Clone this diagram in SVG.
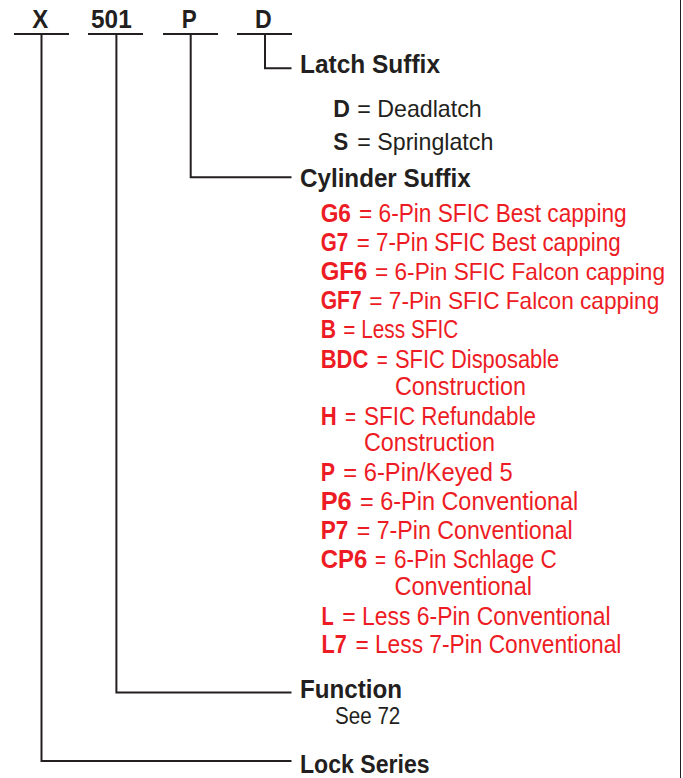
<svg xmlns="http://www.w3.org/2000/svg" width="683" height="778" viewBox="0 0 683 778">
<style>
text{font-family:"Liberation Sans",Arial,sans-serif;}
.h{font-weight:bold;font-size:26px;fill:#231f20;}
.k{font-weight:bold;font-size:25px;fill:#231f20;}
.b{font-weight:bold;font-size:24px;fill:#231f20;}
.r{font-size:24px;fill:#231f20;}
.rb{font-weight:bold;font-size:25px;fill:#ed1c24;}
.rr{font-size:25px;fill:#ed1c24;}
.rs{font-size:23.4px;fill:#ed1c24;}
.ln{stroke:#231f20;stroke-width:2;fill:none;}
</style>
<rect width="683" height="778" fill="#ffffff"/>
<line x1="680.5" y1="0" x2="680.5" y2="778" stroke="#231f20" stroke-width="1"/>
<g id="code">
<text class="k" x="32.3" y="28.3" textLength="16" lengthAdjust="spacingAndGlyphs">X</text>
<text class="k" x="91" y="28.3" textLength="40.7" lengthAdjust="spacingAndGlyphs">501</text>
<text class="k" x="181.7" y="28.3" textLength="15" lengthAdjust="spacingAndGlyphs">P</text>
<text class="k" x="255" y="28.3" textLength="16.7" lengthAdjust="spacingAndGlyphs">D</text>
</g>
<g id="connectors">
<line class="ln" x1="14" y1="34" x2="69" y2="34"/>
<line class="ln" x1="88" y1="34" x2="143" y2="34"/>
<line class="ln" x1="163" y1="34" x2="218" y2="34"/>
<line class="ln" x1="237" y1="34" x2="292" y2="34"/>
<polyline class="ln" points="265,34 265,68.3 291.5,68.3"/>
<polyline class="ln" points="190.7,34 190.7,177.3 291.5,177.3"/>
<polyline class="ln" points="116.4,34 116.4,692.5 291.5,692.5"/>
<polyline class="ln" points="41.5,34 41.5,761 291.5,761"/>
</g>
<g id="latch">
<text class="h" x="300" y="73.3" textLength="140" lengthAdjust="spacingAndGlyphs">Latch Suffix</text>
<text class="b" x="333.3" y="116.7" textLength="16.7" lengthAdjust="spacingAndGlyphs">D</text>
<text class="r" x="357.3" y="116.7" textLength="124.4" lengthAdjust="spacingAndGlyphs">= Deadlatch</text>
<text class="b" x="333.3" y="150" textLength="15" lengthAdjust="spacingAndGlyphs">S</text>
<text class="r" x="357.3" y="150" textLength="136" lengthAdjust="spacingAndGlyphs">= Springlatch</text>
</g>
<g id="cylinder">
<text class="h" x="300" y="186.7" textLength="170.7" lengthAdjust="spacingAndGlyphs">Cylinder Suffix</text>
<text class="rb" x="320.7" y="221.7" textLength="30.3" lengthAdjust="spacingAndGlyphs">G6</text>
<text class="rr" x="359" y="221.7" textLength="267.7" lengthAdjust="spacingAndGlyphs">= 6-Pin SFIC Best capping</text>
<text class="rb" x="320.7" y="251.3" textLength="27.6" lengthAdjust="spacingAndGlyphs">G7</text>
<text class="rr" x="356.7" y="251.3" textLength="264" lengthAdjust="spacingAndGlyphs">= 7-Pin SFIC Best capping</text>
<text class="rb" x="320.7" y="280.3" textLength="46.6" lengthAdjust="spacingAndGlyphs">GF6</text>
<text class="rs" x="375" y="280.3" textLength="290" lengthAdjust="spacingAndGlyphs">= 6-Pin SFIC Falcon capping</text>
<text class="rb" x="320.7" y="309.3" textLength="41" lengthAdjust="spacingAndGlyphs">GF7</text>
<text class="rs" x="369.3" y="309.3" textLength="290" lengthAdjust="spacingAndGlyphs">= 7-Pin SFIC Falcon capping</text>
<text class="rb" x="320.7" y="338.3" textLength="15.3" lengthAdjust="spacingAndGlyphs">B</text>
<text class="rr" x="343.3" y="338.3" textLength="115" lengthAdjust="spacingAndGlyphs">= Less SFIC</text>
<text class="rb" x="320.7" y="368.3" textLength="47.6" lengthAdjust="spacingAndGlyphs">BDC</text>
<text class="rr" x="376.7" y="368.3" textLength="11" lengthAdjust="spacingAndGlyphs">=</text>
<text class="rr" x="395" y="368.3" textLength="164.3" lengthAdjust="spacingAndGlyphs">SFIC Disposable</text>
<text class="rr" x="395" y="394.7" textLength="131" lengthAdjust="spacingAndGlyphs">Construction</text>
<text class="rb" x="320.7" y="425" textLength="16" lengthAdjust="spacingAndGlyphs">H</text>
<text class="rr" x="345" y="425" textLength="11" lengthAdjust="spacingAndGlyphs">=</text>
<text class="rr" x="364" y="425" textLength="172" lengthAdjust="spacingAndGlyphs">SFIC Refundable</text>
<text class="rr" x="364" y="450.7" textLength="131" lengthAdjust="spacingAndGlyphs">Construction</text>
<text class="rb" x="320.7" y="480.7" textLength="14.3" lengthAdjust="spacingAndGlyphs">P</text>
<text class="rr" x="343.3" y="480.7" textLength="169.4" lengthAdjust="spacingAndGlyphs">= 6-Pin/Keyed 5</text>
<text class="rb" x="320.7" y="510" textLength="31" lengthAdjust="spacingAndGlyphs">P6</text>
<text class="rr" x="360" y="510" textLength="218.3" lengthAdjust="spacingAndGlyphs">= 6-Pin Conventional</text>
<text class="rb" x="320.7" y="538.7" textLength="27.6" lengthAdjust="spacingAndGlyphs">P7</text>
<text class="rr" x="356.7" y="538.7" textLength="216" lengthAdjust="spacingAndGlyphs">= 7-Pin Conventional</text>
<text class="rb" x="320.7" y="568.3" textLength="46.6" lengthAdjust="spacingAndGlyphs">CP6</text>
<text class="rr" x="375" y="568.3" textLength="11" lengthAdjust="spacingAndGlyphs">=</text>
<text class="rr" x="394" y="568.3" textLength="162.7" lengthAdjust="spacingAndGlyphs">6-Pin Schlage C</text>
<text class="rr" x="394.5" y="595" textLength="137.5" lengthAdjust="spacingAndGlyphs">Conventional</text>
<text class="rb" x="321.4" y="625" textLength="12.2" lengthAdjust="spacingAndGlyphs">L</text>
<text class="rr" x="342.3" y="625" textLength="268.2" lengthAdjust="spacingAndGlyphs">= Less 6-Pin Conventional</text>
<text class="rb" x="321.4" y="653.3" textLength="25.3" lengthAdjust="spacingAndGlyphs">L7</text>
<text class="rr" x="355.4" y="653.3" textLength="266" lengthAdjust="spacingAndGlyphs">= Less 7-Pin Conventional</text>
</g>
<g id="function">
<text class="h" x="300" y="698" textLength="102" lengthAdjust="spacingAndGlyphs">Function</text>
<text class="r" x="335" y="723.5" textLength="65.3" lengthAdjust="spacingAndGlyphs">See 72</text>
</g>
<g id="series">
<text class="h" x="300" y="773" textLength="129.6" lengthAdjust="spacingAndGlyphs">Lock Series</text>
</g>
</svg>
